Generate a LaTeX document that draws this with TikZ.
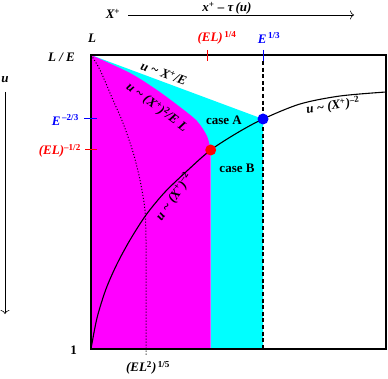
\documentclass[tikz,border=0pt]{standalone}
\usepackage{fontspec}
\setmainfont{Liberation Serif}
\usetikzlibrary{arrows.meta}

\definecolor{cyanfill}{RGB}{0,255,255}
\definecolor{magfill}{RGB}{255,0,255}
\definecolor{dotred}{RGB}{255,0,0}
\definecolor{dotblue}{RGB}{0,0,255}
\newcommand{\sps}[1]{\textsuperscript{\upshape\bfseries #1}}

\begin{document}
\begin{tikzpicture}[x=1pt, y=-1pt,
  lbl/.style={font=\bfseries\itshape\fontsize{13}{15}\selectfont, inner sep=0pt},
  redlbl/.style={lbl, text=dotred},
  bluelbl/.style={lbl, text=dotblue},
  casetxt/.style={font=\bfseries\fontsize{13}{15}\selectfont, inner sep=0pt},
  axis/.style={line width=0.6pt, -{To[length=4pt, width=9pt]}},
  frame/.style={line width=1.1pt},
  curve/.style={line width=1.1pt},
  tick/.style={line width=1pt}
]
\useasboundingbox (0,0) rectangle (388,379);

% shaded regions
\fill[cyanfill] (91,55) -- (263,119) -- (263,349) -- (210.7,349) -- (210.7,150) -- cycle;
\fill[magfill] plot[smooth] coordinates {(91,55) (130,73) (157,90) (180,107) (197,121) (207,136) (210.7,150)}
  -- (210.7,349) -- (91,349) -- cycle;

% curves
\draw[line width=1pt, dash pattern=on 1pt off 2pt] plot[smooth] coordinates {(91,55) (100,70) (113,100) (123,123) (133,152) (140,180) (145,210) (146,240)} -- (146,355);
\draw[curve] plot[smooth] coordinates {(91,349) (97,318) (106,289) (117,264) (130,240) (146,215) (165,192) (188,170) (210.7,150) (237,133) (263,119) (300,104) (340,96) (386,92)};
\draw[line width=2.6pt, dash pattern=on 4pt off 2.6pt] (263,61) -- (263,349);

% frame
\draw[frame] (91,55) rectangle (386,349);

% ticks
\draw[tick, dotred] (207,50) -- (207,61);
\draw[tick, dotblue] (263,50) -- (263,61);
\draw[tick, dotblue] (84,119) -- (97,119);
\draw[tick, dotred] (85,150) -- (97,150);

% crossing points
\fill[dotred] (210.7,150) circle (5.5);
\fill[dotblue] (263,119) circle (5.5);

% axes
\coordinate (xs) at (128,15);
\coordinate (xe) at (354,15);
\coordinate (us) at (5,92);
\coordinate (ue) at (5,314);
\draw[axis] (xs) -- (xe);
\draw[axis] (us) -- (ue);
\node[lbl] (shift) at (227,8) {x\sps{+} -- τ\,(u)};
\node[lbl] (Xp) at (113,14) {X\sps{+}};
\node[lbl] (uaxis) at (5,80) {u};

% labels
\node[lbl] (L) at (92,38) {L};
\node[lbl, anchor=east] (LE) at (75,57) {L / E};
\node[bluelbl, anchor=east] (Em) at (79,120) {E\sps{\,--2/3}};
\node[redlbl, anchor=east] (ELm) at (81,151) {(EL)\sps{--1/2}};
\node[casetxt, anchor=east] (one) at (77,350) {1};
\node[redlbl] (ELq) at (217,38) {(EL)\sps{\,1/4}};
\node[bluelbl] (Et) at (269,38) {E\sps{\,1/3}};
\node[lbl] (ELf) at (148,368) {(EL\sps{2})\sps{\,1/5}};

\node[lbl, rotate=-20] (lin) at (164,73) {u \textasciitilde\ X\sps{+}/E};
\node[lbl, rotate=-37] (quad) at (157,107) {u \textasciitilde\ (X\sps{+})\sps{2}/E L};
\node[lbl, rotate=8] (invup) at (333,106) {u \textasciitilde\ (X\sps{+})\sps{--2}};
\node[lbl, rotate=55] (invlo) at (174,197) {u \textasciitilde\ (X\sps{+})\sps{--2}};
\node[casetxt] (caseA) at (224,120) {case A};
\node[casetxt] (caseB) at (237,168) {case B};
\end{tikzpicture}
\end{document}
